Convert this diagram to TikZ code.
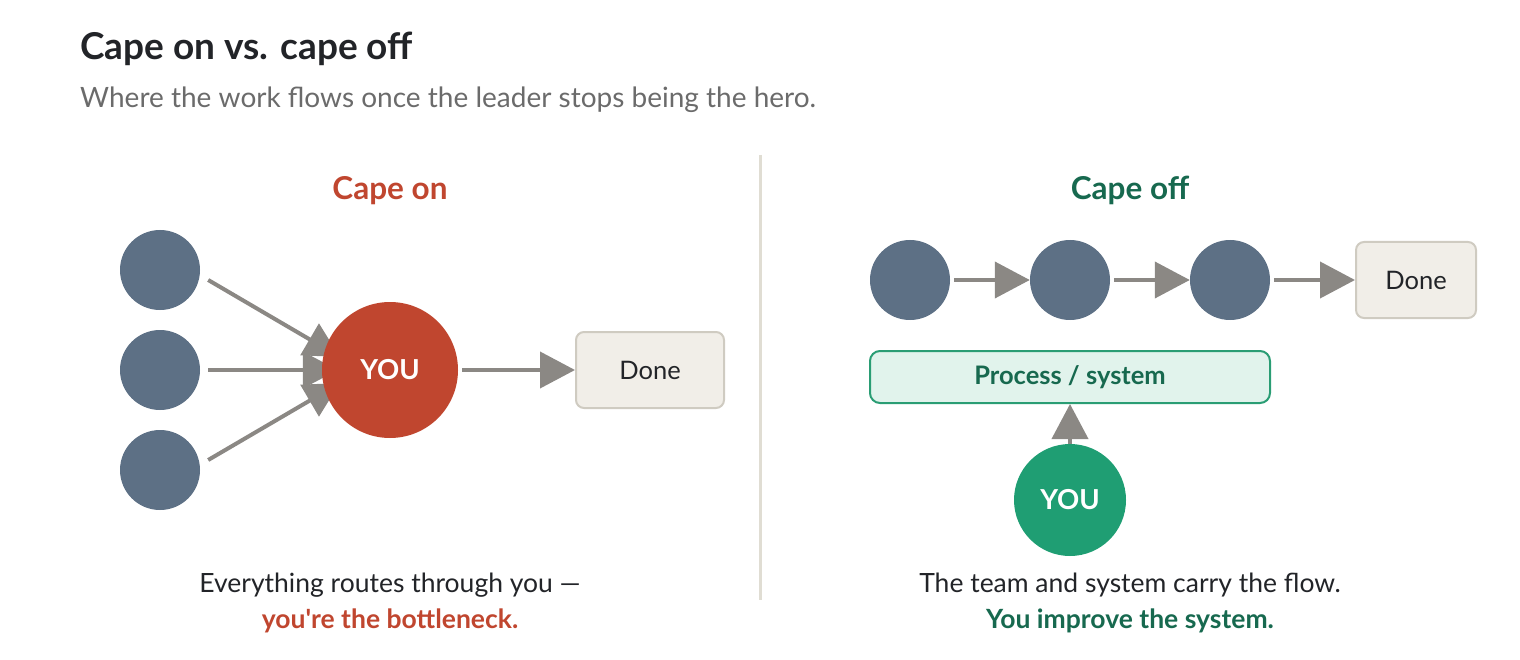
\documentclass[tikz,border=0pt]{standalone}
\usepackage{fontspec}
\setmainfont{Lato}[Ligatures=TeXOff]
\usetikzlibrary{arrows.meta,backgrounds,calc}
\definecolor{ink}{HTML}{222428}
\definecolor{subgray}{HTML}{6B6B6B}
\definecolor{capered}{HTML}{C0462F}
\definecolor{capegreen}{HTML}{17694F}
\definecolor{yougreen}{HTML}{1F9E73}
\definecolor{slate}{HTML}{5D7085}
\definecolor{arrowgray}{HTML}{8B8884}
\definecolor{donefill}{HTML}{F1EEE8}
\definecolor{doneline}{HTML}{CFCBC1}
\definecolor{procfill}{HTML}{E1F3EC}
\definecolor{procline}{HTML}{2A9D74}
\definecolor{divider}{HTML}{E0DDD3}
\tikzset{
  member/.style={circle,fill=slate,minimum size=80pt,inner sep=0pt},
  youred/.style={circle,fill=capered,minimum size=136pt,inner sep=0pt,text=white,font=\fontsize{27.5}{30}\selectfont\bfseries},
  yougr/.style={circle,fill=yougreen,minimum size=112pt,inner sep=0pt,text=white,font=\fontsize{27.5}{30}\selectfont\bfseries},
  donebox/.style={draw=doneline,line width=2pt,fill=donefill,rounded corners=8pt,inner sep=0pt,text=ink,font=\fontsize{25.5}{28}\selectfont},
  procbox/.style={draw=procline,line width=2pt,fill=procfill,rounded corners=10pt,minimum width=400pt,minimum height=52pt,inner sep=0pt,text=capegreen,font=\fontsize{25.5}{28}\selectfont\bfseries},
  flow/.style={draw=arrowgray,line width=4pt,-{Triangle[length=35pt,width=36pt]},arrowgray},
  caption/.style={anchor=base,text=ink,font=\fontsize{26.5}{30}\selectfont},
}
\begin{document}
\begin{tikzpicture}[x=1pt,y=-1pt]
\useasboundingbox (0,0) rectangle (1520,660);
% titles
\node[anchor=base west,inner sep=0pt,text=ink,font=\fontsize{37}{42}\selectfont\bfseries] (title) at (80,60) {Cape on vs. cape off};
\node[anchor=base west,inner sep=0pt,text=subgray,font=\fontsize{28}{32}\selectfont] (subtitle) at (80,108) {Where the work flows once the leader stops being the hero.};
% divider
\coordinate (dtop) at (760,155);
\coordinate (dbot) at (760,600);
\draw[divider,line width=3pt] (dtop) -- (dbot);
% left panel
\node[anchor=base,inner sep=0pt,text=capered,font=\fontsize{31.5}{36}\selectfont\bfseries] (hon) at (390,200) {Cape on};
\node[member] (a1) at (160,270) {};
\node[member] (a2) at (160,370) {};
\node[member] (a3) at (160,470) {};
\node[youred] (youL) at (390,370) {YOU};
\node[donebox,minimum width=148pt,minimum height=76pt] (doneL) at (650,370) {Done};
\begin{scope}[on background layer]
\draw[flow] ([shift={(8,10)}]a1.east) -- ([shift={(18,-13)}]youL.west);
\draw[flow] ([shift={(8,0)}]a2.east) -- ([shift={(16,0)}]youL.west);
\draw[flow] ([shift={(8,-10)}]a3.east) -- ([shift={(18,13)}]youL.west);
\end{scope}
\draw[flow] ([xshift=4pt]youL.east) -- (doneL.west);
\node[caption] (capL1) at (390,592) {Everything routes through you —};
\node[caption,text=capered,font=\fontsize{26.5}{30}\selectfont\bfseries] (capL2) at (390,628) {you're the bottleneck.};
% right panel
\node[anchor=base,inner sep=0pt,text=capegreen,font=\fontsize{31.5}{36}\selectfont\bfseries] (hoff) at (1130,200) {Cape off};
\node[member] (b1) at (910,280) {};
\node[member] (b2) at (1070,280) {};
\node[member] (b3) at (1230,280) {};
\node[donebox,minimum width=120pt,minimum height=76pt] (doneR) at (1416,280) {Done};
\draw[flow] ([xshift=4pt]b1.east) -- (b2.west);
\draw[flow] ([xshift=4pt]b2.east) -- (b3.west);
\draw[flow] ([xshift=4pt]b3.east) -- (doneR.west);
\node[procbox] (proc) at (1070,377) {Process / system};
\node[yougr] (youR) at (1070,500) {YOU};
\draw[flow] (youR.north) -- (proc.south);
\node[caption] (capR1) at (1130,592) {The team and system carry the flow.};
\node[caption,text=capegreen,font=\fontsize{26.5}{30}\selectfont\bfseries] (capR2) at (1130,628) {You improve the system.};
\end{tikzpicture}
\end{document}
